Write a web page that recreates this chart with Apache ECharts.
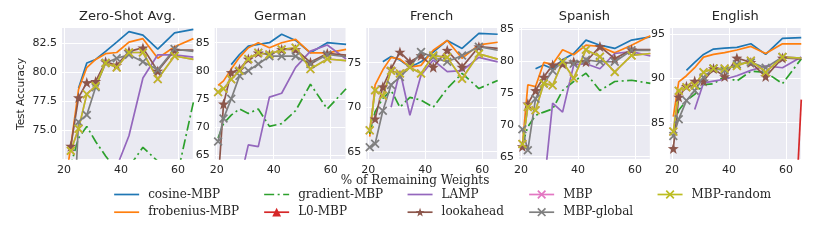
<!DOCTYPE html>
<html><head><meta charset="utf-8">
<script src="https://cdn.jsdelivr.net/npm/echarts@6/dist/echarts.min.js"></script>
<style>html,body{margin:0;padding:0;background:#fff}#c{width:831px;height:242px}</style>
</head><body><div id="c"></div><script>
// ---- data ----
const xValues = [20.5, 22.4, 25.1, 28.0, 31.1, 34.6, 38.5, 42.8, 47.7, 52.9, 58.8, 65.4];
const xTicks = [20, 40, 60];
const panelTitles = ['Zero-Shot Avg.', 'German', 'French', 'Spanish', 'English'];
const seriesNames = ['cosine-MBP', 'frobenius-MBP', 'gradient-MBP', 'L0-MBP', 'LAMP', 'lookahead', 'MBP', 'MBP-global', 'MBP-random'];
const yTicks0 = [75, 77.5, 80, 82.5];
const yTicks1 = [65, 70, 75, 80, 85];
const yTicks2 = [65, 70, 75];
const yTicks3 = [65, 70, 75, 80, 85];
const yTicks4 = [85, 90, 95];

// Zero-Shot Avg.
const zs_cosine    = [null, null, 78.6, 80.8, 81.1, 81.8, 82.6, 83.5, 83.2, 82.0, 83.4, 83.7];
const zs_frobenius = [70.5, 73.6, 78.5, 80.4, 81.1, 81.6, 81.7, 82.6, 82.9, 81.2, 82.2, 82.9];
const zs_gradient  = [70.0, 72.0, 74.3, 75.3, 74.0, 72.75, 71.5, 71.8, 73.5, 72.3, 70.0, 77.4];
const zs_l0        = [null, null, null, null, null, null, null, null, null, null, null, null];
const zs_lamp      = [null, null, null, null, null, null, 71.8, 74.5, 79.5, 81.5, 81.5, 81.3];
const zs_lookahead = [null, 73.6, 77.8, 79.1, 79.2, 80.9, 80.6, 81.8, 82.1, 80.1, 81.9, 81.9];
const zs_mbp       = [null, 73.2, 75.1, 78.1, 78.8, 80.8, 80.4, 81.7, 81.7, 79.4, 81.4, 81.1];
const zs_global    = [null, 62.0, 75.7, 76.3, 78.7, 80.8, 81.2, 81.5, 80.9, 80.2, 82.0, 81.8];
const zs_random    = [null, 73.2, 75.1, 78.1, 78.8, 80.8, 80.4, 81.7, 81.7, 79.4, 81.4, 81.1];

// German
const de_cosine    = [null, null, 81.1, 82.9, 84.4, 84.7, 85.0, 86.5, 85.4, 83.2, 85.0, 84.7];
const de_frobenius = [77.4, 78.2, 80.3, 82.4, 84.1, 85.0, 84.1, 85.0, 85.6, 83.2, 83.2, 83.8];
const de_gradient  = [68.0, 70.6, 72.1, 73.2, 72.4, 73.2, 70.1, 70.6, 72.9, 77.6, 73.2, 76.8];
const de_l0        = [null, null, null, null, null, null, null, null, null, null, null, null];
const de_lamp      = [null, null, null, 60.0, 66.8, 66.5, 75.3, 76.0, 80.6, 83.5, 84.6, 82.1];
const de_lookahead = [60.0, 74.1, 79.7, 80.3, 82.1, 83.2, 82.9, 83.8, 83.8, 81.5, 83.1, 82.8];
const de_mbp       = [76.2, 76.8, 78.5, 80.0, 82.1, 83.2, 82.9, 83.8, 84.1, 80.3, 82.1, 81.8];
const de_global    = [67.4, 71.5, 75.0, 79.1, 80.0, 81.2, 82.6, 82.6, 82.6, 81.2, 82.9, 82.5];
const de_random    = [76.2, 76.8, 78.5, 80.0, 82.1, 83.2, 82.9, 83.8, 84.1, 80.3, 82.1, 81.8];

// French
const fr_cosine    = [null, null, 75.1, 75.7, 75.3, 74.5, 75.1, 76.2, 77.5, 76.6, 78.3, 78.2];
const fr_frobenius = [66.7, 72.5, 74.2, 75.6, 75.4, 74.5, 74.7, 76.4, 77.5, 75.5, 77.0, 77.3];
const fr_gradient  = [67.0, 69.5, 71.0, 71.9, 70.0, 71.1, 70.8, 70.0, 72.1, 73.8, 72.1, 73.0];
const fr_l0        = [null, null, null, null, null, null, null, null, null, null, null, null];
const fr_lamp      = [null, null, null, 70.0, 74.1, 69.1, 73.6, 75.3, 74.0, 74.1, 75.6, 75.1];
const fr_lookahead = [null, 68.7, 72.3, 74.3, 76.2, 75.1, 75.8, 74.5, 76.4, 74.5, 76.8, 76.6];
const fr_mbp       = [67.4, 71.9, 71.3, 74.1, 73.8, 74.5, 73.8, 75.8, 75.6, 73.2, 76.0, 75.4];
const fr_global    = [65.5, 65.9, 69.6, 72.5, 73.4, 74.5, 76.2, 75.6, 75.1, 75.8, 76.8, 76.4];
const fr_random    = [67.4, 71.9, 71.3, 74.1, 73.8, 74.5, 73.8, 75.8, 75.6, 73.2, 76.0, 75.4];

// Spanish
const es_cosine    = [null, null, 78.8, 79.4, 78.8, 80.2, 81.2, 83.3, 82.5, 82.0, 83.3, 83.8];
const es_frobenius = [66.8, 76.3, 76.0, 79.8, 79.5, 81.8, 81.0, 82.5, 82.3, 81.3, 82.5, 84.0];
const es_gradient  = [67.0, 69.7, 71.5, 72.0, 72.5, 75.4, 76.8, 78.1, 75.4, 76.8, 77.0, 76.5];
const es_l0        = [null, null, null, null, null, null, null, null, null, null, null, null];
const es_lamp      = [null, null, null, 60.0, 73.4, 72.0, 79.4, 79.6, 78.8, 81.2, 81.5, 80.8];
const es_lookahead = [66.6, 73.3, 75.4, 77.5, 79.4, 79.6, 79.9, 79.9, 82.3, 80.4, 81.8, 81.8];
const es_mbp       = [67.0, 72.8, 72.3, 76.5, 76.2, 79.9, 77.3, 81.8, 80.7, 78.3, 80.9, 81.2];
const es_global    = [69.3, 66.0, 74.1, 76.5, 78.5, 79.9, 79.6, 80.2, 79.9, 79.9, 81.7, 81.7];
const es_random    = [67.0, 72.8, 72.3, 76.5, 76.2, 79.9, 77.3, 81.8, 80.7, 78.3, 80.9, 81.2];

// English
const en_cosine    = [null, null, 90.9, 91.8, 92.7, 93.3, 93.4, 93.5, 93.9, 92.7, 94.5, 94.6];
const en_frobenius = [85.7, 89.6, 90.3, 91.2, 92.4, 92.7, 92.9, 93.2, 93.6, 92.8, 93.9, 93.9];
const en_gradient  = [84.0, 86.4, 87.5, 88.2, 89.3, 89.4, 90.2, 89.7, 90.8, 90.7, 89.4, 92.2];
const en_l0        = [null, null, null, null, null, null, null, null, null, null, 45.0, 87.6];
const en_lamp      = [null, null, null, 86.5, 89.5, 89.7, 89.9, 90.3, 90.9, 91.4, 91.2, 92.4];
const en_lookahead = [82.1, 87.9, 89.1, 89.7, 89.7, 91.1, 90.2, 92.3, 91.8, 90.2, 92.3, 92.2];
const en_mbp       = [84.0, 88.6, 89.0, 89.2, 90.7, 91.1, 91.1, 91.4, 92.0, 90.7, 92.4, 92.3];
const en_global    = [83.5, 85.4, 87.5, 88.6, 90.1, 91.1, 90.9, 91.6, 91.8, 91.2, 92.4, 92.3];
const en_random    = [84.0, 88.6, 89.0, 89.2, 90.7, 91.1, 91.1, 91.4, 92.0, 90.7, 92.4, 92.3];

// ---- build ----
const panelData = [
  [zs_cosine, zs_frobenius, zs_gradient, zs_l0, zs_lamp, zs_lookahead, zs_mbp, zs_global, zs_random],
  [de_cosine, de_frobenius, de_gradient, de_l0, de_lamp, de_lookahead, de_mbp, de_global, de_random],
  [fr_cosine, fr_frobenius, fr_gradient, fr_l0, fr_lamp, fr_lookahead, fr_mbp, fr_global, fr_random],
  [es_cosine, es_frobenius, es_gradient, es_l0, es_lamp, es_lookahead, es_mbp, es_global, es_random],
  [en_cosine, en_frobenius, en_gradient, en_l0, en_lamp, en_lookahead, en_mbp, en_global, en_random]
];
const yTickSets = [yTicks0, yTicks1, yTicks2, yTicks3, yTicks4];
const yRanges = [[72.49, 83.82], [64.29, 87.62], [64.18, 78.9], [64.64, 85.2], [80.91, 95.68]];
const xRange = [19.3, 65.2];
const gridLeft = [62, 214.7, 366.3, 519, 669.9];
const gridW = 130.8, gridTop = 28, gridH = 131;

const colors = ['#1f77b4', '#ff7f0e', '#2ca02c', '#d62728', '#9467bd', '#8c564b', '#e377c2', '#7f7f7f', '#bcbd22'];
const STAR = 'path://M0,-10L2.35,-3.24L9.51,-3.09L3.8,1.24L5.88,8.09L0,4L-5.88,8.09L-3.8,1.24L-9.51,-3.09L-2.35,-3.24Z';
const XMARK = 'path://M-10,-7.3L-7.3,-10L10,7.3L7.3,10ZM7.3,-10L10,-7.3L-7.3,10L-10,7.3Z';
const symbols = ['none', 'none', 'none', 'triangle', 'none', STAR, XMARK, XMARK, XMARK];
const symSizes = [0, 0, 0, 9, 0, 11, 9, 9, 9];
const DASHDOT = [10, 3.5, 2, 3.5];
const LW = 1.7;

const grids = [], xAxes = [], yAxes = [], series = [], graphics = [];
const tickColor = '#262626';
for (let p = 0; p < 5; p++) {
  grids.push({left: gridLeft[p], top: gridTop, width: gridW, height: gridH, show: true,
    backgroundColor: '#EAEAF2', borderWidth: 0, containLabel: false, outerBoundsMode: 'none'});
  xAxes.push({type: 'value', gridIndex: p, min: xRange[0], max: xRange[1],
    axisLine: {show: false}, axisTick: {show: false, customValues: xTicks},
    axisLabel: {customValues: xTicks, color: tickColor, fontSize: 11, fontFamily: 'DejaVu Sans', margin: 6},
    splitLine: {show: true, lineStyle: {color: '#ffffff', width: 1}}});
  const fmt = p === 0 ? (v => v.toFixed(1)) : (v => String(v));
  yAxes.push({type: 'value', gridIndex: p, min: yRanges[p][0], max: yRanges[p][1],
    axisLine: {show: false}, axisTick: {show: false, customValues: yTickSets[p]},
    axisLabel: {customValues: yTickSets[p], formatter: fmt, color: tickColor, fontSize: 11, fontFamily: 'DejaVu Sans', margin: 5},
    splitLine: {show: true, lineStyle: {color: '#ffffff', width: 1}}});
  graphics.push({type: 'text', x: gridLeft[p] + gridW / 2, y: 16.5,
    style: {text: panelTitles[p], font: '13px "DejaVu Sans"', fill: tickColor, textAlign: 'center', textVerticalAlign: 'middle'}});
  for (let s = 0; s < 9; s++) {
    const vals = panelData[p][s];
    series.push({
      name: seriesNames[s], type: 'line', xAxisIndex: p, yAxisIndex: p,
      data: xValues.map((x, j) => [x, vals[j]]),
      symbol: symbols[s], symbolSize: symSizes[s], showSymbol: symbols[s] !== 'none',
      color: colors[s],
      lineStyle: {color: colors[s], width: LW, type: s === 2 ? DASHDOT : 'solid'},
      itemStyle: {color: colors[s], borderWidth: 0},
      clip: true, connectNulls: false, animation: false, emphasis: {disabled: true}, silent: true
    });
  }
}
graphics.push({type: 'text', x: 21.5, y: 94, rotation: Math.PI / 2,
  style: {text: 'Test Accuracy', font: '10.5px "DejaVu Sans"', fill: tickColor, textAlign: 'center', textVerticalAlign: 'middle'}});
graphics.push({type: 'text', x: 415, y: 180.5,
  style: {text: '% of Remaining Weights', font: '12px "DejaVu Serif"', fill: tickColor, textAlign: 'center', textVerticalAlign: 'middle'}});

// legend: 5 columns x 2 rows, column-major
const legendCols = [113.3, 263.3, 406.7, 528.3, 656.7];
const legendRows = [195.5, 213.2];
const legends = seriesNames.map((n, i) => {
  const noMark = symbols[i] === 'none';
  return {
    data: [{name: n, itemStyle: noMark ? {opacity: 0} : {color: colors[i]},
            lineStyle: {color: colors[i], width: LW, type: i === 2 ? DASHDOT : 'solid'}}],
    left: legendCols[Math.floor(i / 2)], top: legendRows[i % 2] - 7, padding: 0,
    itemWidth: 25, itemHeight: 11, selectedMode: false,
    textStyle: {fontFamily: 'DejaVu Serif', fontSize: 12, color: tickColor, padding: [0, 0, 0, 4]}
  };
});

const chart = echarts.init(document.getElementById('c'), null, {renderer: 'canvas'});
chart.setOption({animation: false, grid: grids, xAxis: xAxes, yAxis: yAxes, series: series, legend: legends, graphic: graphics});
</script></body></html>
